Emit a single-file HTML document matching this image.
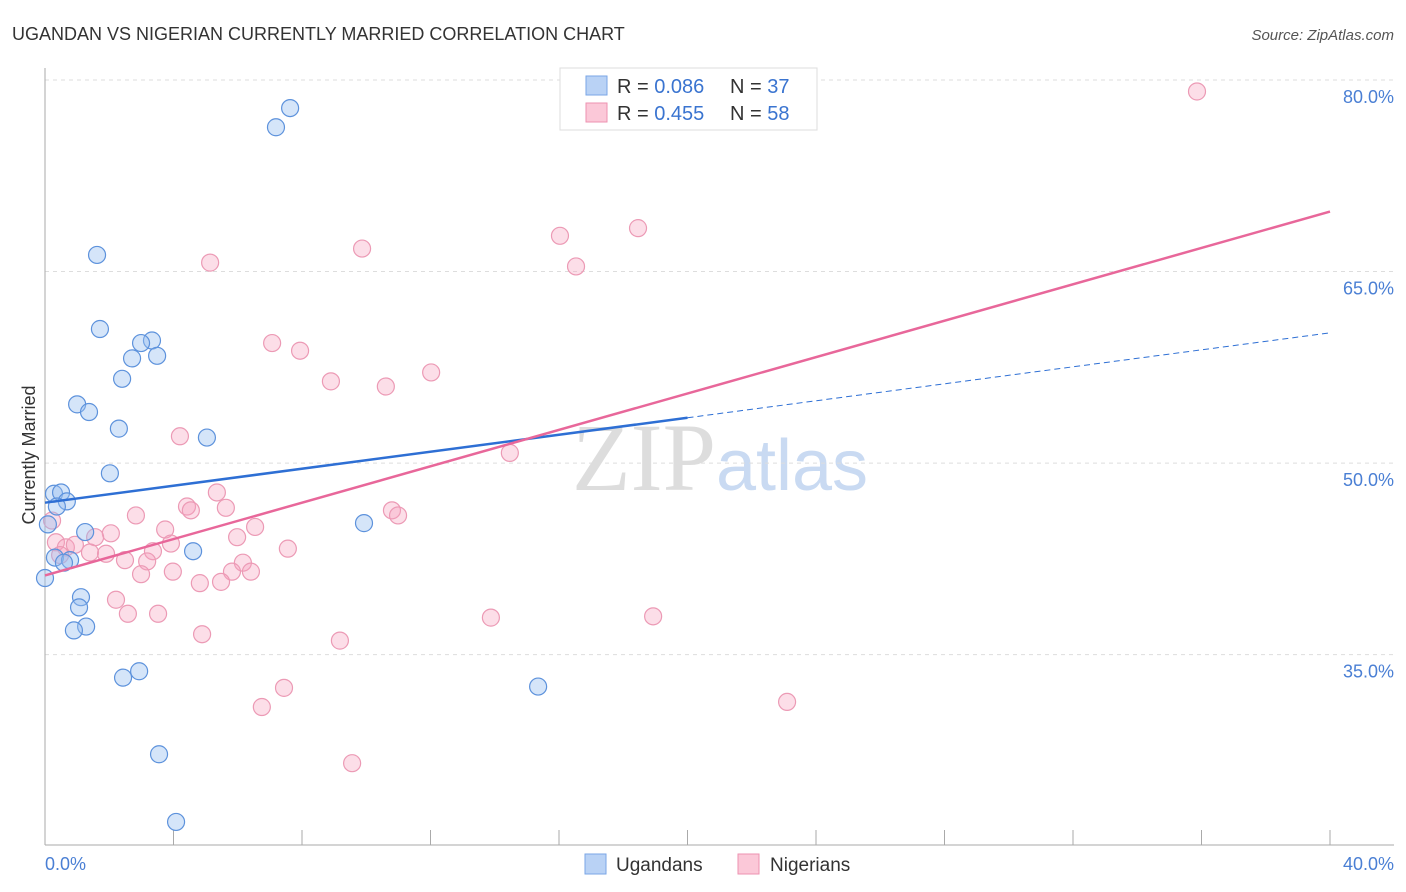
<!DOCTYPE html>
<html><head><meta charset="utf-8"><style>
body{margin:0;background:#fff;font-family:"Liberation Sans",sans-serif;}
svg{display:block}
</style></head><body>
<svg id="chart" width="1406" height="892">
<text x="12" y="40" font-size="18" fill="#333">UGANDAN VS NIGERIAN CURRENTLY MARRIED CORRELATION CHART</text>
<text x="1394" y="40" font-size="15" fill="#555" font-style="italic" text-anchor="end">Source: ZipAtlas.com</text>
<text x="720" y="490" font-size="96" fill="#ddd" text-anchor="middle" font-family="Liberation Serif">ZIP<tspan fill="#c9daf2" font-family="Liberation Sans" font-size="72">atlas</tspan></text>
<g id="grid"></g>
<g id="axes"></g>
<g id="pts"></g>
<g id="lines"></g>
<text x="35" y="455" font-size="18" fill="#333" text-anchor="middle" transform="rotate(-90 35 455)">Currently Married</text>
<text x="45" y="870" font-size="18" fill="#4a7fd4">0.0%</text>
<text x="1394" y="870" font-size="18" fill="#4a7fd4" text-anchor="end">40.0%</text>
<g>
<rect x="560" y="68" width="257" height="62" fill="#fff" stroke="#ddd"/>
<rect x="586" y="76" width="21" height="19" fill="#b9d2f5" stroke="#7aa6e6"/>
<rect x="586" y="103" width="21" height="19" fill="#fbc8d8" stroke="#ee92b0"/>
<text x="617" y="93" font-size="20" fill="#333">R = <tspan fill="#3a74d0">0.086</tspan><tspan x="730">N = </tspan><tspan fill="#3a74d0">37</tspan></text>
<text x="617" y="120" font-size="20" fill="#333">R = <tspan fill="#3a74d0">0.455</tspan><tspan x="730">N = </tspan><tspan fill="#3a74d0">58</tspan></text>
</g>
<g>
<rect x="585" y="854" width="21" height="20" fill="#b9d2f5" stroke="#7aa6e6"/>
<text x="616" y="871" font-size="19" fill="#333">Ugandans</text>
<rect x="738" y="854" width="21" height="20" fill="#fbc8d8" stroke="#ee92b0"/>
<text x="770" y="871" font-size="19" fill="#333">Nigerians</text>
</g>
</svg>
<script>
const yTicks=[35,50,65,80];
const xTicks=[0,4,8,12,16,20,24,28,32,36,40];
const blueX=[7.63,7.19,1.62,1.71,3.33,2.99,3.49,2.71,2.40,1.00,1.37,2.30,5.04,2.02,0.28,0.50,0.68,0.37,0.09,9.93,1.25,4.61,0.31,0.78,0.59,0.00,1.12,1.06,1.28,0.90,2.93,2.43,15.35,3.55,4.08];
const blueY=[77.8,76.3,66.3,60.5,59.6,59.4,58.4,58.2,56.6,54.6,54.0,52.7,52.0,49.2,47.6,47.7,47.0,46.6,45.2,45.3,44.6,43.1,42.6,42.4,42.2,41.0,39.5,38.7,37.2,36.9,33.7,33.2,32.5,27.2,21.9];
const pinkX=[35.86,18.46,16.03,9.87,5.14,16.53,7.07,7.94,12.02,8.90,10.61,4.20,14.47,5.35,4.42,4.54,5.63,10.80,10.99,2.83,0.22,3.74,6.54,2.05,1.56,5.98,3.92,0.34,3.36,0.65,1.40,7.56,1.90,2.49,3.18,0.47,6.16,3.98,5.82,6.41,2.99,4.82,5.48,2.21,2.58,3.52,13.88,18.93,4.89,9.18,7.44,6.75,23.1,9.56,0.93];
const pinkY=[79.1,68.4,67.8,66.8,65.7,65.4,59.4,58.8,57.1,56.4,56.0,52.1,50.8,47.7,46.6,46.3,46.5,46.3,45.9,45.9,45.5,44.8,45.0,44.5,44.2,44.2,43.7,43.8,43.1,43.4,43.0,43.3,42.9,42.4,42.3,42.8,42.2,41.5,41.5,41.5,41.3,40.6,40.7,39.3,38.2,38.2,37.9,38.0,36.6,36.1,32.4,30.9,31.3,26.5,43.6];
const blueTrend=[46.9,60.2];
const pinkTrend=[41.2,69.7];
const NS="http://www.w3.org/2000/svg";
const X=v=>45+v/40*1285;
const Y=v=>80+(80-v)*12.77;
function mk(tag,attrs,parent){const e=document.createElementNS(NS,tag);for(const k in attrs)e.setAttribute(k,attrs[k]);document.getElementById(parent).appendChild(e);return e;}
yTicks.forEach(t=>{
 const l=mk('line',{x1:45,x2:1394,y1:Y(t),y2:Y(t),stroke:'#ddd','stroke-dasharray':'4,4'},'grid');
 
 
 const tx=mk('text',{x:1394,y:Y(t)+23,'font-size':18,fill:'#4a7fd4','text-anchor':'end'},'grid');
 tx.textContent=t.toFixed(1)+'%';
 
 
});
const ax=mk('line',{x1:45,x2:45,y1:68,y2:845,stroke:'#aaa'},'axes');


const bx=mk('line',{x1:45,x2:1394,y1:845,y2:845,stroke:'#aaa'},'axes');


xTicks.forEach(t=>{
 const l=mk('line',{x1:X(t),x2:X(t),y1:830,y2:845,stroke:'#aaa'},'axes');
 
 
});
function dots(xs,ys,fill,stroke,name){
 xs.forEach((x,i)=>{
  const c=mk('circle',{cx:X(x),cy:Y(ys[i]),r:8.5,fill:fill,stroke:stroke,'stroke-width':1.2},'pts');
  
  
 });
}
dots(pinkX,pinkY,'rgba(246,160,190,0.35)','#ec9ab5','nigerian-point');
dots(blueX,blueY,'rgba(150,190,240,0.4)','#5d92dc','ugandan-point');
const bm=v=>blueTrend[0]+(blueTrend[1]-blueTrend[0])*v/40;
const pm=v=>pinkTrend[0]+(pinkTrend[1]-pinkTrend[0])*v/40;
const b1=mk('line',{x1:X(0),y1:Y(bm(0)),x2:X(20),y2:Y(bm(20)),stroke:'#2e6fd4','stroke-width':2.5},'lines');


const b2=mk('line',{x1:X(20),y1:Y(bm(20)),x2:X(40),y2:Y(bm(40)),stroke:'#2e6fd4','stroke-width':1,'stroke-dasharray':'6,4'},'lines');


const p1=mk('line',{x1:X(0),y1:Y(pm(0)),x2:X(40),y2:Y(pm(40)),stroke:'#e8679a','stroke-width':2.5},'lines');


</script>
</body></html>
